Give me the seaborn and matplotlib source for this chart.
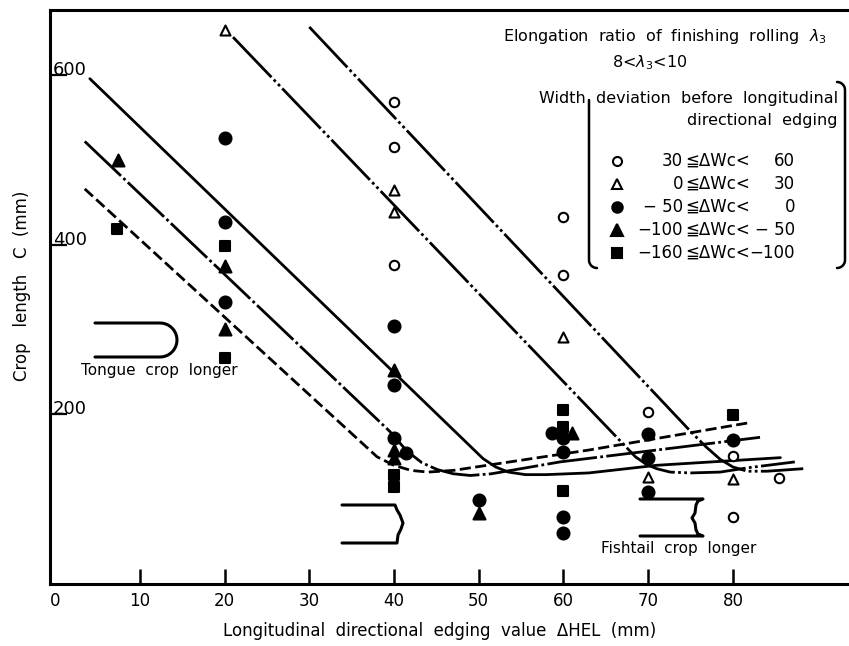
import numpy as np
import pandas as pd
import seaborn as sns
import matplotlib.pyplot as plt

# ---- data: x = edging value dHEL (mm), y = crop length C (mm)
open_circle_x = [40, 40, 40, 60, 60, 70, 80, 80, 85.4]
open_circle_y = [568, 516, 376, 433, 365, 203, 151, 79, 125]
open_tri_x = [20, 40, 40, 60, 70, 80]
open_tri_y = [654, 465, 439, 291, 126, 124]
fill_circle_x = [20, 20, 20, 40, 40, 40, 41.4, 50, 58.6, 60, 60, 60, 60, 70, 70, 70, 80]
fill_circle_y = [526, 427, 333, 304, 235, 172, 155, 99, 178, 172, 156, 79, 60, 177, 149, 109, 170]
fill_tri_x = [7.4, 20, 20, 40, 40, 40, 50, 61.0]
fill_tri_y = [500, 375, 301, 252, 158, 149, 84, 178]
fill_sq_x = [7.3, 20, 20, 40, 40, 60, 60, 60, 80]
fill_sq_y = [419, 399, 267, 129, 114, 205, 185, 110, 199]

# five crop-length curves
curve_a_x = [3.5, 38, 40, 42, 44, 47, 63, 81.8]
curve_a_y = [466, 150, 140, 134, 132, 134, 158, 190]
curve_b_x = [3.5, 39.5, 41.5, 43.3, 45.1, 47, 49, 51.5, 59.6, 83.2]
curve_b_y = [522, 180, 157, 143, 135, 130, 128, 130, 144, 173]
curve_c_x = [4.1, 50.5, 52, 53.5, 55.5, 58, 63, 71, 85.6]
curve_c_y = [596, 148, 138, 132, 129, 129, 131, 140, 149]
curve_d_x = [21, 68.5, 69.8, 71, 72.6, 75, 78.5, 81.7, 87.3]
curve_d_y = [645, 150, 141, 136, 132, 131, 132, 137, 144]
curve_e_x = [30, 75, 76.8, 78.5, 80, 81.7, 84, 88.3]
curve_e_y = [657, 180, 162, 147, 138, 133, 133, 136]

x_ticks = [0, 10, 20, 30, 40, 50, 60, 70, 80]
y_ticks = [200, 400, 600]

legend_left = ['30', '0', '\u2212 50', '\u2212100', '\u2212160']
legend_right = ['60', '30', '0', '\u2212 50', '\u2212100']

sns.set_style('ticks')
plt.rcParams['font.family'] = ['DejaVu Sans', 'Noto Sans CJK JP']
plt.rcParams['axes.linewidth'] = 2.2
plt.rcParams['text.color'] = 'black'
plt.rcParams['axes.edgecolor'] = 'black'
plt.rcParams['xtick.color'] = 'black'
plt.rcParams['ytick.color'] = 'black'

W, H = 849, 646
fig = plt.figure(figsize=(W / 100, H / 100), dpi=100)
ax = fig.add_axes([50 / W, (H - 584) / H, (W - 50) / W, (584 - 10) / H])

# curves
styles = [
    (curve_a_x, curve_a_y, (0, (4, 1.6))),
    (curve_b_x, curve_b_y, (0, (18, 1.2, 1, 1.2))),
    (curve_c_x, curve_c_y, '-'),
    (curve_d_x, curve_d_y, (0, (20, 1.2, 1, 1.2, 1, 1.2))),
    (curve_e_x, curve_e_y, (0, (20, 1.2, 1, 1.2, 1, 1.2))),
]
for cx, cy, ls in styles:
    sns.lineplot(x=cx, y=cy, sort=False, estimator=None, color='black',
                 linewidth=2, linestyle=ls, ax=ax, zorder=2)

# markers
groups = [
    (open_circle_x, open_circle_y, 'o', 'white', 46),
    (open_tri_x, open_tri_y, '^', 'white', 52),
    (fill_circle_x, fill_circle_y, 'o', 'black', 74),
    (fill_tri_x, fill_tri_y, '^', 'black', 74),
    (fill_sq_x, fill_sq_y, 's', 'black', 60),
]
for gx, gy, mk, fc, sz in groups:
    sns.scatterplot(x=gx, y=gy, marker=mk, color=fc, edgecolor='black',
                    linewidth=1.5, s=sz, ax=ax, zorder=3, legend=False)

ax.set_xlim(-0.6, 93.7)
ax.set_ylim(0, 677)
ax.spines['right'].set_visible(False)
ax.set_xticks(x_ticks)
ax.set_yticks(y_ticks)
ax.tick_params(axis='x', direction='in', length=11, width=1.8, labelsize=12, pad=6)
ax.tick_params(axis='y', direction='in', length=12, width=1.6, labelsize=13, pad=-2)
for lbl in ax.get_yticklabels():
    lbl.set_horizontalalignment('left')
    lbl.set_verticalalignment('baseline')
ax.xaxis.get_major_ticks()[0].tick1line.set_visible(False)
ax.set_xlabel('')
ax.set_ylabel('')

# overlay in pixel units for annotations
ov = fig.add_axes([0, 0, 1, 1], zorder=5)
ov.set_xlim(0, W)
ov.set_ylim(H, 0)
ov.axis('off')
ov.patch.set_alpha(0)

ov.text(440, 631, 'Longitudinal  directional  edging  value  \u0394HEL  (mm)',
        ha='center', va='center', fontsize=12)
ov.text(22, 286, 'Crop   length   C  (mm)', rotation=90, ha='center', va='center', fontsize=12)

ov.text(665, 36, r'Elongation  ratio  of  finishing  rolling  $\lambda_3$',
        ha='center', va='center', fontsize=11.5)
ov.text(612, 63, r'8<$\lambda_3$<10', ha='left', va='center', fontsize=11.5)
ov.text(838, 98, 'Width  deviation  before  longitudinal', ha='right', va='center', fontsize=11.5)
ov.text(838, 121, 'directional  edging', ha='right', va='center', fontsize=11.5)

leg_markers = [('o', 'white', 6.5), ('^', 'white', 7), ('o', 'black', 7.5),
               ('^', 'black', 8), ('s', 'black', 7)]
for i, (mk, fc, ms) in enumerate(leg_markers):
    yy = 161 + 23 * i
    ov.plot([617], [yy], marker=mk, mfc=fc, mec='black', mew=1.5, ms=ms, ls='none')
    ov.text(683, yy, legend_left[i], ha='right', va='center', fontsize=12)
    ov.text(685, yy, '\u2266\u0394Wc<', ha='left', va='center', fontsize=12)
    ov.text(795, yy, legend_right[i], ha='right', va='center', fontsize=12)

# brackets around the legend
t = np.linspace(0, np.pi / 2, 12)
lb_x = np.concatenate([[589, 589], 589 + 8 * (1 - np.cos(t))])
lb_y = np.concatenate([[100, 260], 260 + 8 * np.sin(t)])
ov.plot(lb_x, lb_y, color='black', lw=1.8)
rb_x = np.concatenate([837 + 8 * np.sin(t), 845 - 8 * (1 - np.cos(t))])
rb_y = np.concatenate([82 + 8 * (1 - np.cos(t)), 260 + 8 * np.sin(t)])
ov.plot(rb_x, rb_y, color='black', lw=1.8)

# tongue sketch
th = np.linspace(-np.pi / 2, np.pi / 2, 20)
tg_x = np.concatenate([[95], 160 + 17 * np.cos(th), [95]])
tg_y = np.concatenate([[323], 340 + 17 * np.sin(th), [357]])
ov.plot(tg_x, tg_y, color='black', lw=2.2)
ov.text(159, 371, 'Tongue  crop  longer', ha='center', va='center', fontsize=11)

# fishtail sketches
ov.plot([342, 395, 397, 400, 403, 401, 398, 397, 342],
        [505, 505, 510, 515, 523, 529, 535, 543, 543], color='black', lw=2.2)
ov.plot([640, 703, 698, 696, 695, 692, 695, 696, 698, 703, 640],
        [499, 499, 501, 505, 513, 518, 523, 530, 534, 536, 536], color='black', lw=2.2)
ov.text(679, 548, 'Fishtail  crop  longer', ha='center', va='center', fontsize=11)

fig.savefig('out.png', dpi=100)
